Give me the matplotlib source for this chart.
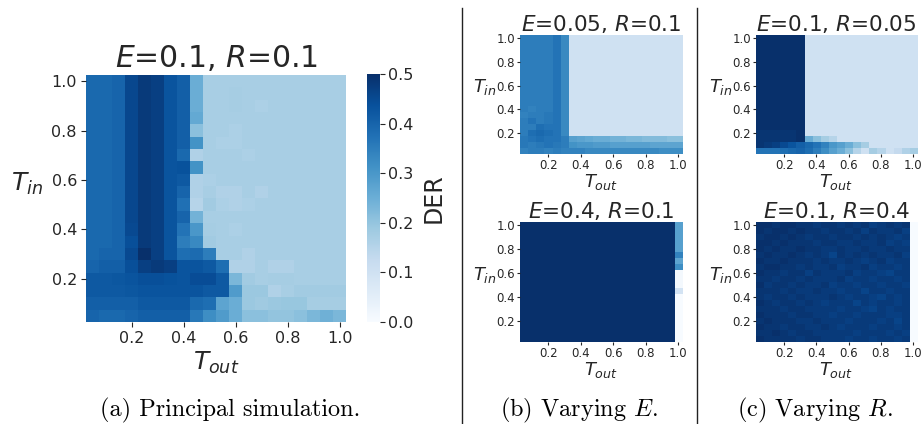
import numpy as np
import matplotlib.pyplot as plt
from matplotlib.lines import Line2D

# grid of thresholds used on both axes
t_vals = [0.05, 0.10, 0.15, 0.20, 0.25, 0.30, 0.35, 0.40, 0.45, 0.50,
          0.55, 0.60, 0.65, 0.70, 0.75, 0.80, 0.85, 0.90, 0.95, 1.00]
tick_vals = [0.2, 0.4, 0.6, 0.8, 1.0]
cbar_ticks = [0.0, 0.1, 0.2, 0.3, 0.4, 0.5]

# DER values, rows go from T_in = 1.0 (top) down to T_in = 0.05, columns T_out 0.05 -> 1.0
der_main = [
    [0.39, 0.39, 0.40, 0.455, 0.48, 0.47, 0.43, 0.41, 0.25, 0.17, 0.17, 0.17, 0.17, 0.17, 0.17, 0.17, 0.17, 0.17, 0.17, 0.17],
    [0.39, 0.39, 0.40, 0.455, 0.48, 0.47, 0.43, 0.41, 0.25, 0.17, 0.17, 0.175, 0.17, 0.17, 0.17, 0.17, 0.17, 0.17, 0.17, 0.17],
    [0.39, 0.39, 0.40, 0.455, 0.48, 0.47, 0.43, 0.41, 0.25, 0.17, 0.17, 0.175, 0.17, 0.165, 0.17, 0.17, 0.17, 0.17, 0.17, 0.17],
    [0.39, 0.39, 0.40, 0.455, 0.48, 0.47, 0.43, 0.41, 0.26, 0.17, 0.17, 0.17, 0.17, 0.17, 0.17, 0.17, 0.17, 0.17, 0.17, 0.17],
    [0.39, 0.39, 0.40, 0.455, 0.48, 0.47, 0.43, 0.41, 0.21, 0.17, 0.17, 0.165, 0.17, 0.17, 0.17, 0.17, 0.17, 0.17, 0.17, 0.17],
    [0.39, 0.39, 0.40, 0.455, 0.48, 0.47, 0.43, 0.41, 0.31, 0.17, 0.165, 0.165, 0.17, 0.17, 0.17, 0.17, 0.17, 0.17, 0.17, 0.17],
    [0.39, 0.39, 0.40, 0.455, 0.48, 0.47, 0.43, 0.39, 0.16, 0.17, 0.17, 0.17, 0.165, 0.17, 0.17, 0.17, 0.17, 0.17, 0.17, 0.17],
    [0.39, 0.39, 0.40, 0.455, 0.48, 0.47, 0.43, 0.435, 0.31, 0.17, 0.17, 0.17, 0.17, 0.17, 0.17, 0.17, 0.17, 0.17, 0.17, 0.17],
    [0.39, 0.39, 0.40, 0.455, 0.48, 0.47, 0.43, 0.42, 0.16, 0.165, 0.17, 0.17, 0.17, 0.17, 0.17, 0.17, 0.17, 0.17, 0.17, 0.17],
    [0.39, 0.39, 0.40, 0.455, 0.48, 0.47, 0.43, 0.40, 0.16, 0.17, 0.16, 0.16, 0.17, 0.16, 0.17, 0.17, 0.17, 0.17, 0.17, 0.17],
    [0.39, 0.39, 0.40, 0.455, 0.48, 0.47, 0.43, 0.375, 0.15, 0.18, 0.165, 0.16, 0.165, 0.17, 0.17, 0.17, 0.17, 0.17, 0.17, 0.17],
    [0.39, 0.39, 0.40, 0.455, 0.48, 0.47, 0.43, 0.40, 0.24, 0.17, 0.17, 0.17, 0.17, 0.17, 0.17, 0.17, 0.17, 0.17, 0.17, 0.17],
    [0.39, 0.39, 0.40, 0.45, 0.48, 0.47, 0.43, 0.37, 0.30, 0.175, 0.17, 0.165, 0.17, 0.17, 0.17, 0.17, 0.17, 0.17, 0.17, 0.17],
    [0.39, 0.39, 0.40, 0.44, 0.48, 0.47, 0.43, 0.35, 0.33, 0.18, 0.17, 0.17, 0.17, 0.17, 0.17, 0.17, 0.17, 0.17, 0.17, 0.17],
    [0.39, 0.40, 0.40, 0.45, 0.50, 0.47, 0.43, 0.38, 0.385, 0.35, 0.17, 0.17, 0.16, 0.17, 0.17, 0.17, 0.17, 0.17, 0.17, 0.17],
    [0.40, 0.41, 0.41, 0.44, 0.47, 0.48, 0.47, 0.43, 0.43, 0.42, 0.38, 0.16, 0.16, 0.17, 0.16, 0.16, 0.17, 0.17, 0.17, 0.17],
    [0.42, 0.42, 0.425, 0.43, 0.44, 0.44, 0.435, 0.43, 0.445, 0.445, 0.42, 0.23, 0.18, 0.17, 0.175, 0.175, 0.17, 0.17, 0.17, 0.17],
    [0.42, 0.42, 0.42, 0.425, 0.43, 0.43, 0.43, 0.43, 0.43, 0.42, 0.42, 0.29, 0.19, 0.19, 0.16, 0.17, 0.18, 0.18, 0.18, 0.18],
    [0.41, 0.41, 0.41, 0.41, 0.42, 0.42, 0.42, 0.42, 0.39, 0.38, 0.27, 0.25, 0.19, 0.185, 0.19, 0.195, 0.195, 0.175, 0.175, 0.175],
    [0.40, 0.39, 0.39, 0.40, 0.41, 0.41, 0.41, 0.41, 0.36, 0.32, 0.29, 0.25, 0.21, 0.21, 0.20, 0.20, 0.21, 0.23, 0.245, 0.23],
]

der_e005 = [
    [0.35, 0.35, 0.35, 0.35, 0.37, 0.33, 0.10, 0.10, 0.10, 0.10, 0.10, 0.10, 0.10, 0.10, 0.10, 0.10, 0.10, 0.10, 0.10, 0.10],
    [0.35, 0.35, 0.35, 0.35, 0.37, 0.33, 0.10, 0.10, 0.10, 0.10, 0.10, 0.10, 0.10, 0.10, 0.10, 0.10, 0.10, 0.10, 0.10, 0.10],
    [0.35, 0.35, 0.35, 0.35, 0.37, 0.33, 0.10, 0.10, 0.10, 0.10, 0.10, 0.10, 0.10, 0.10, 0.10, 0.10, 0.10, 0.10, 0.10, 0.10],
    [0.35, 0.35, 0.35, 0.35, 0.37, 0.33, 0.10, 0.10, 0.10, 0.10, 0.10, 0.10, 0.10, 0.10, 0.10, 0.10, 0.10, 0.10, 0.10, 0.10],
    [0.35, 0.35, 0.35, 0.35, 0.37, 0.33, 0.10, 0.10, 0.10, 0.10, 0.10, 0.10, 0.10, 0.10, 0.10, 0.10, 0.10, 0.10, 0.10, 0.10],
    [0.35, 0.35, 0.35, 0.35, 0.37, 0.33, 0.10, 0.10, 0.10, 0.10, 0.10, 0.10, 0.10, 0.10, 0.10, 0.10, 0.10, 0.10, 0.10, 0.10],
    [0.35, 0.35, 0.35, 0.35, 0.37, 0.33, 0.10, 0.10, 0.10, 0.10, 0.10, 0.10, 0.10, 0.10, 0.10, 0.10, 0.10, 0.10, 0.10, 0.10],
    [0.35, 0.35, 0.35, 0.35, 0.37, 0.33, 0.10, 0.10, 0.10, 0.10, 0.10, 0.10, 0.10, 0.10, 0.10, 0.10, 0.10, 0.10, 0.10, 0.10],
    [0.35, 0.35, 0.35, 0.35, 0.37, 0.33, 0.10, 0.10, 0.10, 0.10, 0.10, 0.10, 0.10, 0.10, 0.10, 0.10, 0.10, 0.10, 0.10, 0.10],
    [0.35, 0.35, 0.35, 0.35, 0.37, 0.33, 0.10, 0.10, 0.10, 0.10, 0.10, 0.10, 0.10, 0.10, 0.10, 0.10, 0.10, 0.10, 0.10, 0.10],
    [0.35, 0.35, 0.35, 0.35, 0.37, 0.33, 0.10, 0.10, 0.10, 0.10, 0.10, 0.10, 0.10, 0.10, 0.10, 0.10, 0.10, 0.10, 0.10, 0.10],
    [0.35, 0.35, 0.35, 0.35, 0.37, 0.33, 0.10, 0.10, 0.10, 0.10, 0.10, 0.10, 0.10, 0.10, 0.10, 0.10, 0.10, 0.10, 0.10, 0.10],
    [0.35, 0.34, 0.35, 0.35, 0.37, 0.33, 0.10, 0.10, 0.10, 0.10, 0.10, 0.10, 0.10, 0.10, 0.10, 0.10, 0.10, 0.10, 0.10, 0.10],
    [0.34, 0.35, 0.35, 0.36, 0.37, 0.33, 0.10, 0.10, 0.10, 0.10, 0.10, 0.10, 0.10, 0.10, 0.10, 0.10, 0.10, 0.10, 0.10, 0.10],
    [0.35, 0.37, 0.35, 0.36, 0.37, 0.33, 0.10, 0.10, 0.10, 0.10, 0.10, 0.10, 0.10, 0.10, 0.10, 0.10, 0.10, 0.10, 0.10, 0.10],
    [0.35, 0.35, 0.38, 0.37, 0.37, 0.33, 0.10, 0.10, 0.10, 0.10, 0.10, 0.10, 0.10, 0.10, 0.10, 0.10, 0.10, 0.10, 0.10, 0.10],
    [0.35, 0.38, 0.39, 0.38, 0.37, 0.33, 0.10, 0.10, 0.10, 0.10, 0.10, 0.10, 0.10, 0.10, 0.10, 0.10, 0.10, 0.10, 0.10, 0.10],
    [0.36, 0.37, 0.38, 0.37, 0.37, 0.35, 0.28, 0.27, 0.26, 0.25, 0.25, 0.24, 0.24, 0.23, 0.23, 0.22, 0.22, 0.22, 0.21, 0.21],
    [0.36, 0.35, 0.36, 0.37, 0.36, 0.35, 0.31, 0.30, 0.30, 0.29, 0.29, 0.28, 0.28, 0.28, 0.28, 0.28, 0.27, 0.27, 0.27, 0.27],
    [0.34, 0.35, 0.35, 0.34, 0.35, 0.34, 0.34, 0.34, 0.33, 0.33, 0.33, 0.33, 0.33, 0.33, 0.33, 0.33, 0.33, 0.32, 0.32, 0.32],
]

der_r005 = [
    [0.52, 0.52, 0.52, 0.52, 0.52, 0.52, 0.10, 0.10, 0.10, 0.10, 0.10, 0.10, 0.10, 0.10, 0.10, 0.10, 0.10, 0.10, 0.10, 0.10],
    [0.52, 0.52, 0.52, 0.52, 0.52, 0.52, 0.10, 0.10, 0.10, 0.10, 0.10, 0.10, 0.10, 0.10, 0.10, 0.10, 0.10, 0.10, 0.10, 0.10],
    [0.52, 0.52, 0.52, 0.52, 0.52, 0.52, 0.10, 0.10, 0.10, 0.10, 0.10, 0.10, 0.10, 0.10, 0.10, 0.10, 0.10, 0.10, 0.10, 0.10],
    [0.52, 0.52, 0.52, 0.52, 0.52, 0.52, 0.10, 0.10, 0.10, 0.10, 0.10, 0.10, 0.10, 0.10, 0.10, 0.10, 0.10, 0.10, 0.10, 0.10],
    [0.52, 0.52, 0.52, 0.52, 0.52, 0.52, 0.10, 0.10, 0.10, 0.10, 0.10, 0.10, 0.10, 0.10, 0.10, 0.10, 0.10, 0.10, 0.10, 0.10],
    [0.52, 0.52, 0.52, 0.52, 0.52, 0.52, 0.10, 0.10, 0.10, 0.10, 0.10, 0.10, 0.10, 0.10, 0.10, 0.10, 0.10, 0.10, 0.10, 0.10],
    [0.52, 0.52, 0.52, 0.52, 0.52, 0.52, 0.10, 0.10, 0.10, 0.10, 0.10, 0.10, 0.10, 0.10, 0.10, 0.10, 0.10, 0.10, 0.10, 0.10],
    [0.52, 0.52, 0.52, 0.52, 0.52, 0.52, 0.10, 0.10, 0.10, 0.10, 0.10, 0.10, 0.10, 0.10, 0.10, 0.10, 0.10, 0.10, 0.10, 0.10],
    [0.52, 0.52, 0.52, 0.52, 0.52, 0.52, 0.10, 0.10, 0.10, 0.10, 0.10, 0.10, 0.10, 0.10, 0.10, 0.10, 0.10, 0.10, 0.10, 0.10],
    [0.52, 0.52, 0.52, 0.52, 0.52, 0.52, 0.10, 0.10, 0.10, 0.10, 0.10, 0.10, 0.10, 0.10, 0.10, 0.10, 0.10, 0.10, 0.10, 0.10],
    [0.52, 0.52, 0.52, 0.52, 0.52, 0.52, 0.10, 0.10, 0.10, 0.10, 0.10, 0.10, 0.10, 0.10, 0.10, 0.10, 0.10, 0.10, 0.10, 0.10],
    [0.52, 0.52, 0.52, 0.52, 0.52, 0.52, 0.10, 0.10, 0.10, 0.10, 0.10, 0.10, 0.10, 0.10, 0.10, 0.10, 0.10, 0.10, 0.10, 0.10],
    [0.52, 0.52, 0.52, 0.52, 0.52, 0.52, 0.10, 0.10, 0.10, 0.10, 0.10, 0.10, 0.10, 0.10, 0.10, 0.10, 0.10, 0.10, 0.10, 0.10],
    [0.52, 0.52, 0.52, 0.52, 0.52, 0.52, 0.10, 0.10, 0.10, 0.10, 0.10, 0.10, 0.10, 0.10, 0.10, 0.10, 0.10, 0.10, 0.10, 0.10],
    [0.52, 0.52, 0.52, 0.52, 0.52, 0.52, 0.10, 0.10, 0.10, 0.10, 0.10, 0.10, 0.10, 0.10, 0.10, 0.10, 0.10, 0.10, 0.10, 0.10],
    [0.52, 0.52, 0.52, 0.52, 0.52, 0.52, 0.10, 0.10, 0.10, 0.10, 0.10, 0.10, 0.10, 0.10, 0.10, 0.10, 0.10, 0.10, 0.10, 0.10],
    [0.49, 0.49, 0.49, 0.49, 0.49, 0.50, 0.10, 0.10, 0.10, 0.10, 0.10, 0.10, 0.10, 0.10, 0.10, 0.10, 0.10, 0.10, 0.10, 0.10],
    [0.49, 0.49, 0.49, 0.49, 0.49, 0.50, 0.25, 0.21, 0.175, 0.15, 0.10, 0.10, 0.10, 0.10, 0.10, 0.10, 0.10, 0.10, 0.10, 0.10],
    [0.49, 0.48, 0.47, 0.45, 0.43, 0.41, 0.39, 0.37, 0.34, 0.30, 0.28, 0.25, 0.21, 0.175, 0.10, 0.10, 0.10, 0.10, 0.10, 0.10],
    [0.37, 0.37, 0.37, 0.38, 0.39, 0.40, 0.38, 0.35, 0.32, 0.28, 0.25, 0.21, 0.15, 0.10, 0.175, 0.15, 0.10, 0.125, 0.16, 0.175],
]

der_e04 = [
    [0.52, 0.52, 0.52, 0.52, 0.52, 0.52, 0.52, 0.52, 0.52, 0.52, 0.52, 0.52, 0.52, 0.52, 0.52, 0.52, 0.52, 0.52, 0.52, 0.28],
    [0.52, 0.52, 0.52, 0.52, 0.52, 0.52, 0.52, 0.52, 0.52, 0.52, 0.52, 0.52, 0.52, 0.52, 0.52, 0.52, 0.52, 0.52, 0.52, 0.28],
    [0.52, 0.52, 0.52, 0.52, 0.52, 0.52, 0.52, 0.52, 0.52, 0.52, 0.52, 0.52, 0.52, 0.52, 0.52, 0.52, 0.52, 0.52, 0.52, 0.28],
    [0.52, 0.52, 0.52, 0.52, 0.52, 0.52, 0.52, 0.52, 0.52, 0.52, 0.52, 0.52, 0.52, 0.52, 0.52, 0.52, 0.52, 0.52, 0.52, 0.28],
    [0.52, 0.52, 0.52, 0.52, 0.52, 0.52, 0.52, 0.52, 0.52, 0.52, 0.52, 0.52, 0.52, 0.52, 0.52, 0.52, 0.52, 0.52, 0.52, 0.28],
    [0.52, 0.52, 0.52, 0.52, 0.52, 0.52, 0.52, 0.52, 0.52, 0.52, 0.52, 0.52, 0.52, 0.52, 0.52, 0.52, 0.52, 0.52, 0.52, 0.34],
    [0.52, 0.52, 0.52, 0.52, 0.52, 0.52, 0.52, 0.52, 0.50, 0.52, 0.52, 0.52, 0.52, 0.52, 0.52, 0.52, 0.52, 0.52, 0.52, 0.27],
    [0.52, 0.52, 0.52, 0.52, 0.52, 0.52, 0.52, 0.52, 0.52, 0.52, 0.52, 0.52, 0.52, 0.52, 0.52, 0.52, 0.52, 0.52, 0.52, 0.32],
    [0.52, 0.52, 0.52, 0.52, 0.52, 0.52, 0.52, 0.52, 0.52, 0.52, 0.52, 0.52, 0.52, 0.52, 0.52, 0.52, 0.52, 0.52, 0.52, 0.01],
    [0.52, 0.52, 0.52, 0.52, 0.52, 0.52, 0.52, 0.52, 0.52, 0.52, 0.52, 0.52, 0.52, 0.52, 0.52, 0.52, 0.52, 0.52, 0.52, 0.01],
    [0.52, 0.52, 0.52, 0.52, 0.52, 0.52, 0.52, 0.52, 0.52, 0.52, 0.52, 0.52, 0.52, 0.52, 0.52, 0.52, 0.52, 0.52, 0.52, 0.01],
    [0.52, 0.52, 0.52, 0.52, 0.52, 0.52, 0.52, 0.52, 0.52, 0.52, 0.52, 0.52, 0.52, 0.52, 0.52, 0.52, 0.52, 0.52, 0.52, 0.09],
    [0.52, 0.52, 0.52, 0.52, 0.52, 0.52, 0.52, 0.52, 0.52, 0.52, 0.52, 0.52, 0.52, 0.52, 0.52, 0.52, 0.52, 0.52, 0.52, 0.00],
    [0.52, 0.52, 0.52, 0.52, 0.52, 0.52, 0.52, 0.52, 0.52, 0.52, 0.52, 0.52, 0.52, 0.52, 0.52, 0.52, 0.52, 0.52, 0.52, 0.00],
    [0.52, 0.52, 0.52, 0.52, 0.52, 0.52, 0.52, 0.52, 0.52, 0.52, 0.52, 0.52, 0.52, 0.52, 0.52, 0.52, 0.52, 0.52, 0.52, 0.00],
    [0.52, 0.52, 0.52, 0.52, 0.52, 0.52, 0.52, 0.52, 0.52, 0.52, 0.52, 0.52, 0.52, 0.52, 0.52, 0.52, 0.52, 0.52, 0.52, 0.00],
    [0.52, 0.52, 0.52, 0.52, 0.52, 0.52, 0.52, 0.52, 0.52, 0.52, 0.52, 0.52, 0.52, 0.52, 0.52, 0.52, 0.52, 0.52, 0.52, 0.00],
    [0.52, 0.52, 0.52, 0.52, 0.52, 0.52, 0.52, 0.52, 0.52, 0.52, 0.52, 0.52, 0.52, 0.52, 0.52, 0.52, 0.52, 0.52, 0.52, 0.00],
    [0.52, 0.52, 0.52, 0.52, 0.52, 0.52, 0.52, 0.52, 0.52, 0.52, 0.52, 0.52, 0.52, 0.52, 0.52, 0.52, 0.52, 0.52, 0.52, 0.00],
    [0.52, 0.52, 0.52, 0.52, 0.52, 0.52, 0.52, 0.52, 0.52, 0.52, 0.52, 0.52, 0.52, 0.52, 0.52, 0.52, 0.52, 0.52, 0.52, 0.00],
]

der_r04 = [
    [0.50, 0.50, 0.49, 0.50, 0.50, 0.49, 0.49, 0.48, 0.49, 0.49, 0.48, 0.49, 0.48, 0.49, 0.47, 0.48, 0.49, 0.48, 0.49, 0.00],
    [0.50, 0.49, 0.50, 0.50, 0.49, 0.50, 0.49, 0.49, 0.48, 0.49, 0.49, 0.48, 0.49, 0.47, 0.49, 0.48, 0.48, 0.49, 0.47, 0.00],
    [0.49, 0.50, 0.50, 0.49, 0.50, 0.49, 0.48, 0.49, 0.49, 0.48, 0.49, 0.49, 0.48, 0.49, 0.48, 0.49, 0.48, 0.47, 0.48, 0.00],
    [0.50, 0.50, 0.49, 0.50, 0.49, 0.49, 0.49, 0.48, 0.49, 0.49, 0.48, 0.48, 0.49, 0.48, 0.48, 0.49, 0.47, 0.48, 0.47, 0.00],
    [0.50, 0.49, 0.50, 0.49, 0.49, 0.50, 0.49, 0.49, 0.48, 0.48, 0.49, 0.48, 0.48, 0.49, 0.48, 0.48, 0.49, 0.48, 0.48, 0.00],
    [0.49, 0.50, 0.49, 0.49, 0.50, 0.49, 0.48, 0.49, 0.48, 0.46, 0.49, 0.48, 0.49, 0.48, 0.49, 0.48, 0.48, 0.49, 0.47, 0.00],
    [0.50, 0.49, 0.49, 0.50, 0.49, 0.49, 0.49, 0.48, 0.49, 0.48, 0.48, 0.49, 0.48, 0.47, 0.48, 0.49, 0.47, 0.48, 0.48, 0.00],
    [0.49, 0.50, 0.50, 0.49, 0.49, 0.48, 0.49, 0.48, 0.48, 0.49, 0.47, 0.48, 0.48, 0.49, 0.47, 0.48, 0.48, 0.47, 0.48, 0.00],
    [0.50, 0.49, 0.49, 0.48, 0.49, 0.49, 0.47, 0.49, 0.48, 0.48, 0.48, 0.49, 0.47, 0.48, 0.48, 0.47, 0.46, 0.48, 0.48, 0.00],
    [0.49, 0.49, 0.48, 0.49, 0.49, 0.48, 0.49, 0.48, 0.48, 0.48, 0.49, 0.47, 0.48, 0.48, 0.47, 0.48, 0.48, 0.47, 0.48, 0.00],
    [0.50, 0.48, 0.49, 0.49, 0.48, 0.49, 0.48, 0.48, 0.49, 0.47, 0.48, 0.48, 0.47, 0.48, 0.48, 0.47, 0.48, 0.48, 0.47, 0.00],
    [0.49, 0.49, 0.49, 0.48, 0.49, 0.48, 0.48, 0.49, 0.48, 0.48, 0.47, 0.48, 0.48, 0.46, 0.48, 0.48, 0.47, 0.48, 0.48, 0.00],
    [0.49, 0.48, 0.49, 0.49, 0.48, 0.49, 0.48, 0.48, 0.48, 0.49, 0.48, 0.47, 0.48, 0.48, 0.47, 0.46, 0.48, 0.47, 0.48, 0.00],
    [0.50, 0.49, 0.48, 0.49, 0.49, 0.48, 0.49, 0.48, 0.47, 0.48, 0.48, 0.48, 0.46, 0.48, 0.47, 0.48, 0.48, 0.47, 0.48, 0.00],
    [0.49, 0.49, 0.49, 0.48, 0.49, 0.49, 0.48, 0.48, 0.48, 0.48, 0.47, 0.48, 0.48, 0.47, 0.46, 0.48, 0.47, 0.48, 0.48, 0.00],
    [0.50, 0.49, 0.49, 0.49, 0.48, 0.49, 0.49, 0.48, 0.48, 0.47, 0.48, 0.48, 0.47, 0.48, 0.48, 0.48, 0.47, 0.47, 0.48, 0.00],
    [0.49, 0.50, 0.49, 0.49, 0.49, 0.48, 0.48, 0.49, 0.48, 0.48, 0.48, 0.47, 0.48, 0.48, 0.48, 0.47, 0.48, 0.46, 0.48, 0.00],
    [0.50, 0.49, 0.49, 0.48, 0.49, 0.49, 0.48, 0.48, 0.49, 0.48, 0.47, 0.48, 0.48, 0.48, 0.47, 0.48, 0.48, 0.47, 0.48, 0.00],
    [0.49, 0.49, 0.50, 0.49, 0.48, 0.49, 0.49, 0.48, 0.48, 0.48, 0.48, 0.48, 0.47, 0.48, 0.48, 0.48, 0.47, 0.48, 0.47, 0.00],
    [0.50, 0.49, 0.49, 0.49, 0.49, 0.48, 0.49, 0.49, 0.48, 0.48, 0.48, 0.47, 0.48, 0.48, 0.47, 0.48, 0.48, 0.47, 0.48, 0.00],
]

TXT = '#262626'
W, H = 923, 424


def px_rect(x0, y0, x1, y1):
    # pixel box (top-left origin) -> figure fraction rect
    return [x0 / W, 1 - y1 / H, (x1 - x0) / W, (y1 - y0) / H]


def heat(ax, grid, title, title_fs, tick_fs, lab_fs, ylab_x, title_pad, tick_len, tick_pad, xlab_pad):
    lo = t_vals[0] - 0.025
    hi = t_vals[-1] + 0.025
    im = ax.imshow(np.array(grid), cmap='Blues', vmin=0, vmax=0.5, aspect='auto',
                   origin='upper', extent=(lo, hi, lo, hi), interpolation='nearest')
    ax.set_xticks(tick_vals, labels=['%.1f' % v for v in tick_vals])
    ax.set_yticks(tick_vals, labels=['%.1f' % v for v in tick_vals])
    ax.tick_params(labelsize=tick_fs, colors=TXT, length=tick_len, width=0.8, pad=tick_pad)
    for s in ax.spines.values():
        s.set_visible(False)
    ax.set_title(title, fontsize=title_fs, color=TXT, pad=title_pad)
    ax.set_xlabel(r'$T_{out}$', fontsize=lab_fs, color=TXT, labelpad=xlab_pad)
    ax.set_ylabel(r'$T_{in}$', fontsize=lab_fs, color=TXT, rotation=0, ha='center', va='center')
    ax.yaxis.set_label_coords(ylab_x, 0.56)
    return im


fig = plt.figure(figsize=(W / 100, H / 100), dpi=100)

ax_main = fig.add_axes(px_rect(86, 75, 346, 322))
im = heat(ax_main, der_main, r'$E$=0.1, $R$=0.1', 21.5, 11.5, 18, -0.225, 6, 3.5, 3, 3)

cax = fig.add_axes(px_rect(367, 74, 380, 322))
cb = fig.colorbar(im, cax=cax, ticks=cbar_ticks)
cb.outline.set_visible(False)
cb.ax.set_yticklabels(['%.1f' % v for v in cbar_ticks])
cb.ax.tick_params(labelsize=11.5, colors=TXT, length=3.5, width=0.8, pad=2)
cb.set_label('DER', fontsize=17, color=TXT, labelpad=6)

small_kw = dict(title_fs=15.5, tick_fs=8.5, lab_fs=13, ylab_x=-0.22, title_pad=3,
                tick_len=2, tick_pad=1.5, xlab_pad=0)
ax_b1 = fig.add_axes(px_rect(520, 35, 682, 154))
heat(ax_b1, der_e005, r'$E$=0.05, $R$=0.1', **small_kw)
ax_c1 = fig.add_axes(px_rect(756, 35, 917, 154))
heat(ax_c1, der_r005, r'$E$=0.1, $R$=0.05', **small_kw)
ax_b2 = fig.add_axes(px_rect(520, 222, 682, 342))
heat(ax_b2, der_e04, r'$E$=0.4, $R$=0.1', **small_kw)
ax_c2 = fig.add_axes(px_rect(756, 222, 917, 342))
heat(ax_c2, der_r04, r'$E$=0.1, $R$=0.4', **small_kw)

# separators between sub-figures
for xs in (462, 697):
    fig.add_artist(Line2D([xs / W, xs / W], [0, 1 - 8 / H], color='#222222', lw=1))

cap_kw = dict(fontsize=17.5, family='cmr10', math_fontfamily='cm', ha='center', va='center', color='black')
fig.text(230 / W, 1 - 410 / H, '(a) Principal simulation.', **cap_kw)
fig.text(579 / W, 1 - 410 / H, r'(b) Varying $E$.', **cap_kw)
fig.text(815 / W, 1 - 410 / H, r'(c) Varying $R$.', **cap_kw)

plt.savefig('out.png', dpi=100)
